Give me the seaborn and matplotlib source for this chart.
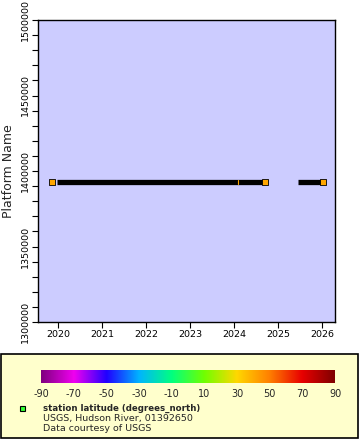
import matplotlib
matplotlib.use("Agg")
import matplotlib.pyplot as plt
import matplotlib.dates as mdates
from matplotlib.colors import LinearSegmentedColormap, Normalize
from matplotlib.patches import Rectangle
from matplotlib.ticker import MultipleLocator, FuncFormatter, FixedLocator
import numpy as np
import pandas as pd
import seaborn as sns

# ---- data ----
station_id = 1392650
station_lat = 40.8
marker_times = ["2019-11-15", "2024-09-12", "2026-01-03"]
segment_starts = ["2019-12-20", "2025-06-10"]
segment_ends = ["2024-09-05", "2025-12-30"]
gap_tick_time = "2024-01-30"
cbar_ticks = [-90, -70, -50, -30, -10, 10, 30, 50, 70, 90]
cmap_colors = ["#800080", "#f000f0", "#2000ff", "#00b4ff", "#00ff80",
               "#70ff00", "#ffd800", "#ff8000", "#e80000", "#800000"]
year_ticks = [2020, 2021, 2022, 2023, 2024, 2025, 2026]

sns.set_style("ticks")
plt.rcParams["font.family"] = ["DejaVu Sans"]
plt.rcParams["axes.unicode_minus"] = False

W, H = 360, 440
fig = plt.figure(figsize=(W / 100, H / 100), dpi=100)

def fx(x): return x / W
def fy(y): return 1 - y / H

cmap = LinearSegmentedColormap.from_list("rb2", cmap_colors)
norm = Normalize(-90, 90)
mcol = cmap(norm(station_lat))

# legend box
fig.patches.append(Rectangle((fx(1), fy(438)), fx(357), 84 / H, transform=fig.transFigure,
                             facecolor="#ffffcc", edgecolor="black", lw=1.2, zorder=-5))

ax = fig.add_axes([fx(38), fy(322), fx(297), 302 / H])
ax.set_facecolor("#ccccff")

# segments
for s, e in zip(segment_starts, segment_ends):
    ax.plot([pd.Timestamp(s), pd.Timestamp(e)], [station_id, station_id],
            color="black", lw=3.8, solid_capstyle="butt", zorder=2)
gt = pd.Timestamp(gap_tick_time)
ax.plot([gt, gt], [station_id - 1500, station_id + 1500], color=mcol, lw=0.8, zorder=3)

df = pd.DataFrame({"time": pd.to_datetime(marker_times),
                   "platform": [station_id] * len(marker_times)})
sns.scatterplot(data=df, x="time", y="platform", marker="s", s=17, color=mcol,
                edgecolor="black", linewidth=0.6, ax=ax, zorder=4, legend=False)

ax.set_ylim(1300000, 1500000)
ax.set_xlim(pd.Timestamp("2019-07-18"), pd.Timestamp("2026-04-15"))
ax.yaxis.set_major_locator(MultipleLocator(50000))
ax.yaxis.set_minor_locator(MultipleLocator(10000))
ax.yaxis.set_major_formatter(FuncFormatter(lambda v, p: f"{int(v)}"))
ax.set_xticks([pd.Timestamp(f"{y}-01-01") for y in year_ticks])
ax.xaxis.set_major_formatter(mdates.DateFormatter("%Y"))
ax.tick_params(axis="both", which="both", direction="out", length=4, width=0.8,
               labelsize=6.8, colors="black", pad=2)
for lab in ax.get_yticklabels():
    lab.set_rotation(90)
    lab.set_va("center")
ax.set_xlabel("")
ax.set_ylabel("Platform Name", fontsize=9, labelpad=4)
for sp in ax.spines.values():
    sp.set_visible(True)
    sp.set_color("black")
    sp.set_linewidth(1.0)

# colorbar
cax = fig.add_axes([fx(41), fy(383), fx(294), 13 / H])
cax.set_zorder(5)
grad = np.linspace(-90, 90, 512).reshape(1, -1)
cax.imshow(grad, aspect="auto", cmap=cmap, norm=norm, extent=[-90, 90, 0, 1])
cax.set_yticks([])
cax.set_xticks(cbar_ticks)
cax.xaxis.set_minor_locator(FixedLocator([cbar_ticks[0], cbar_ticks[-1]]))
cax.set_xlim(-90, 90)
cax.tick_params(axis="x", which="major", direction="out", length=0, labelsize=7, pad=4.5)
cax.tick_params(axis="x", which="minor", direction="out", length=4, width=0.8)
for sp in cax.spines.values():
    sp.set_visible(False)

# legend
fig.add_artist(Rectangle((fx(19.5), fy(410.5)), 5 / W, 5 / H, transform=fig.transFigure,
                         facecolor="#33ff33", edgecolor="black", lw=0.8, zorder=6))
fig.text(fx(43), fy(408), "station latitude (degrees_north)", fontsize=6.2,
         fontweight="bold", va="center", ha="left", zorder=6)
fig.text(fx(43), fy(418), "USGS, Hudson River, 01392650", fontsize=6.8, va="center", ha="left", zorder=6)
fig.text(fx(43), fy(428), "Data courtesy of USGS", fontsize=6.8, va="center", ha="left", zorder=6)

fig.savefig("out.png", dpi=100)
